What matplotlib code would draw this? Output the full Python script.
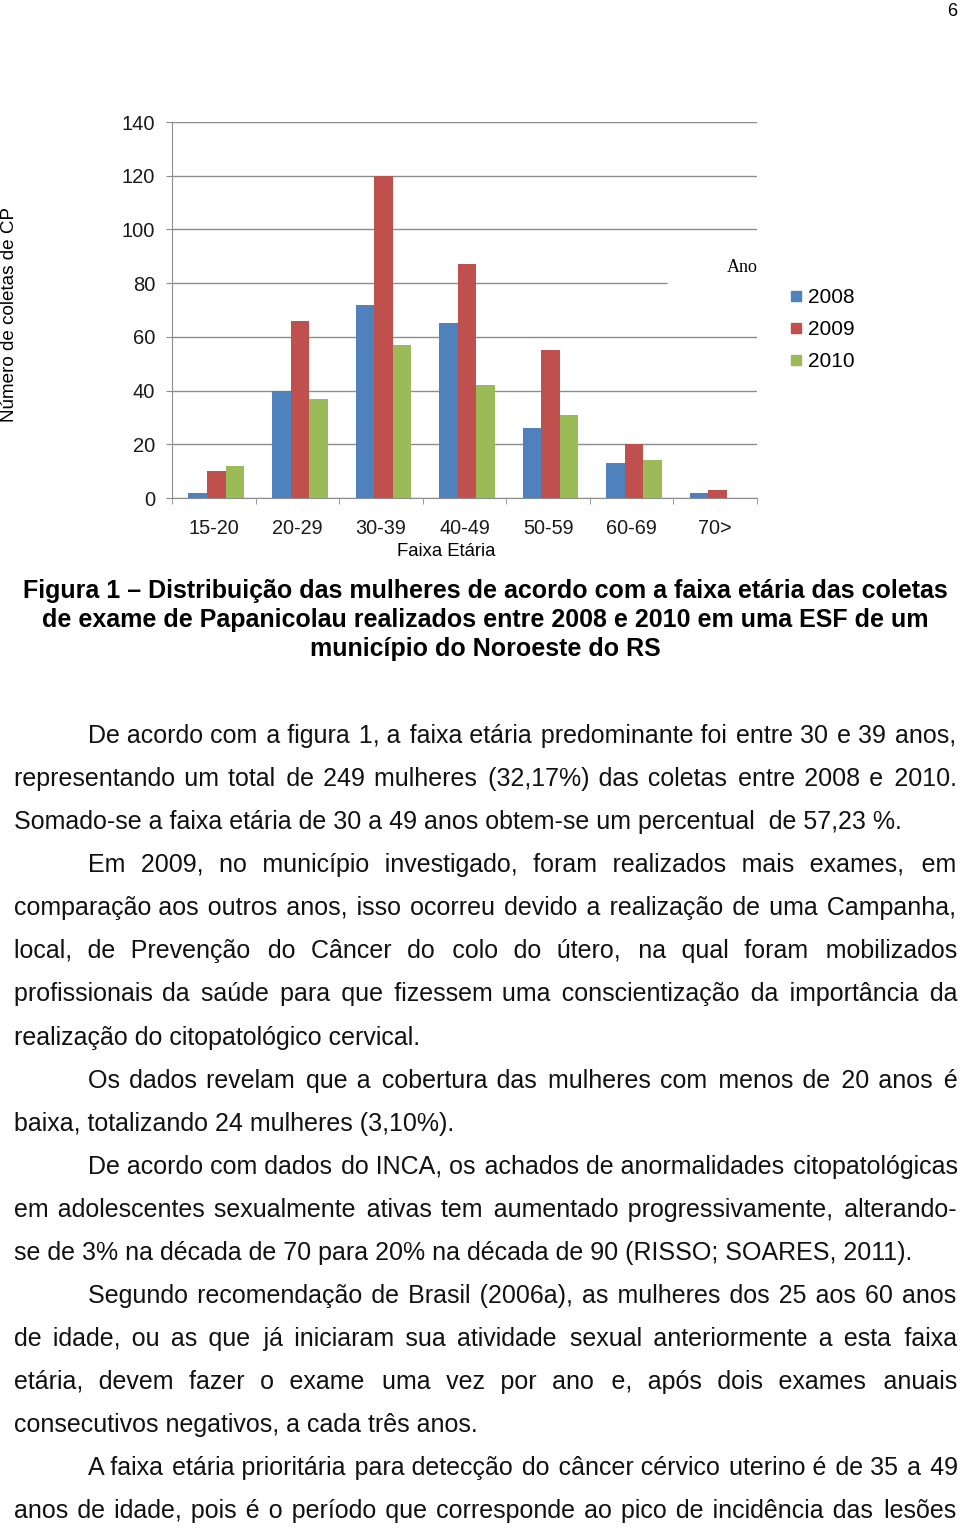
import matplotlib
matplotlib.use('Agg')
import matplotlib.pyplot as plt
from matplotlib.lines import Line2D

plt.rcParams['font.family'] = ['Liberation Sans', 'DejaVu Sans']

# dados do grafico
faixas = ['15-20', '20-29', '30-39', '40-49', '50-59', '60-69', '70>']
anos = ['2008', '2009', '2010']
coletas_2008 = [2, 40, 72, 65, 26, 13, 2]
coletas_2009 = [10, 66, 120, 87, 55, 20, 3]
coletas_2010 = [12, 37, 57, 42, 31, 14, 0]
yticks = [0, 20, 40, 60, 80, 100, 120, 140]
cores = ['#4F81BD', '#C0504D', '#9BBB59']

legenda = ['Figura 1 \u2013 Distribuição das mulheres de acordo com a faixa etária das coletas',
           'de exame de Papanicolau realizados entre 2008 e 2010 em uma ESF de um',
           'município do Noroeste do RS']

# texto do corpo: (linhas, recuo na primeira linha)
paragrafos = [
    ['De acordo com a figura 1, a faixa etária predominante foi entre 30 e 39 anos,',
     'representando um total de 249 mulheres (32,17%) das coletas entre 2008 e 2010.',
     'Somado-se a faixa etária de 30 a 49 anos obtem-se um percentual  de 57,23 %.'],
    ['Em 2009, no município investigado, foram realizados mais exames, em',
     'comparação aos outros anos, isso ocorreu devido a realização de uma Campanha,',
     'local, de Prevenção do Câncer do colo do útero, na qual foram mobilizados',
     'profissionais da saúde para que fizessem uma conscientização da importância da',
     'realização do citopatológico cervical.'],
    ['Os dados revelam que a cobertura das mulheres com menos de 20 anos é',
     'baixa, totalizando 24 mulheres (3,10%).'],
    ['De acordo com dados do INCA, os achados de anormalidades citopatológicas',
     'em adolescentes sexualmente ativas tem aumentado progressivamente, alterando-',
     'se de 3% na década de 70 para 20% na década de 90 (RISSO; SOARES, 2011).'],
    ['Segundo recomendação de Brasil (2006a), as mulheres dos 25 aos 60 anos',
     'de idade, ou as que já iniciaram sua atividade sexual anteriormente a esta faixa',
     'etária, devem fazer o exame uma vez por ano e, após dois exames anuais',
     'consecutivos negativos, a cada três anos.'],
    ['A faixa etária prioritária para detecção do câncer cérvico uterino é de 35 a 49',
     'anos de idade, pois é o período que corresponde ao pico de incidência das lesões'],
]

W, H = 960, 1528
fig = plt.figure(figsize=(W / 100, H / 100), dpi=100)
cinza = '#8c8c8c'

# grafico de barras
ax = fig.add_axes([172 / W, 1 - 498 / H, 585 / W, 376 / H])
x = range(len(faixas))
largura = 0.222
for k, (serie, cor) in enumerate(zip([coletas_2008, coletas_2009, coletas_2010], cores)):
    ax.bar([i + (k - 1) * largura + 0.03 for i in x], serie, width=largura,
           color=cor, zorder=3)

# a linha do 80 e cortada pelo rotulo "Ano" no original
fim = [6.5 if v != 80 else 5.42 for v in yticks]
ax.hlines(yticks, -0.5, fim, colors=cinza, lw=1, zorder=1)

ax.set_xlim(-0.5, 6.5)
ax.set_ylim(0, 140)
ax.set_yticks(yticks)
ax.set_xticks(list(x))
ax.set_xticklabels(faixas)
ax.set_xticks([i - 0.5 for i in range(len(faixas) + 1)], minor=True)
ax.tick_params(axis='x', which='major', length=0, pad=15, labelsize=14.3, colors='#1a1a1a')
ax.tick_params(axis='x', which='minor', length=4, color=cinza, direction='out')
ax.tick_params(axis='y', length=4, color=cinza, labelsize=14.5, pad=8, labelcolor='#1a1a1a')
for s in ['top', 'right']:
    ax.spines[s].set_visible(False)
ax.spines['left'].set_color(cinza)
ax.spines['bottom'].set_color(cinza)

fig.text(446 / W, 1 - 551 / H, 'Faixa Etária', ha='center', va='center', fontsize=13.3)
fig.text(10 / W, 1 - 315 / H, 'Número de coletas de CP', ha='center', va='center',
         rotation=90, fontsize=13.6)
fig.text(742 / W, 1 - 267 / H, 'Ano', ha='center', va='center', fontsize=13,
         family='Liberation Serif')

handles = [Line2D([], [], marker='s', ls='', color=c, markersize=7.5) for c in cores]
fig.legend(handles, anos, loc='upper left', bbox_to_anchor=(787 / W, 1 - 288 / H),
           frameon=False, fontsize=15, handletextpad=0.1, labelspacing=0.63,
           handlelength=0.9, borderaxespad=0, borderpad=0)

# numero da pagina
fig.text(952 / W, 1 - 12 / H, '6', ha='center', va='center', fontsize=13)

# legenda da figura
for i, linha in enumerate(legenda):
    fig.text(485 / W, 1 - (591 + 29 * i) / H, linha, ha='center', va='center',
             fontsize=18, fontweight='bold')

# corpo justificado: cada linha e um unico texto, os espacos sao
# alargados com espacos finos (hair space) ate a margem direita
renderer = fig.canvas.get_renderer()
tam = 18
x_esq, x_dir, recuo = 14, 957, 88
HAIR = '\u200a'


def largura_texto(t, s):
    t.set_text(s)
    return t.get_window_extent(renderer).width


def monta(palavras, extras):
    s = palavras[0]
    for p, n in zip(palavras[1:], extras):
        s += ' ' + HAIR * n + p
    return s


y = 743
passo = 43.08
for par in paragrafos:
    for j, linha in enumerate(par):
        x0 = recuo if j == 0 else x_esq
        ultima = (j == len(par) - 1) and not linha.endswith('lesões')
        t = fig.text(x0 / W, 1 - y / H, linha, ha='left', va='baseline',
                     fontsize=tam, color='#111111')
        if not ultima:
            palavras = linha.split()
            gaps = len(palavras) - 1
            w0 = largura_texto(t, monta(palavras, [0] * gaps))
            w1 = largura_texto(t, monta(palavras, [4] * gaps))
            hair = (w1 - w0) / (4 * gaps)
            if hair > 0.3:
                total = max(0, round((x_dir - x0 - w0) / hair))
                base, resto = divmod(total, gaps)
                extras = [base + (1 if (k * resto) // gaps != ((k + 1) * resto) // gaps else 0)
                          for k in range(gaps)]
                t.set_text(monta(palavras, extras))
            else:
                t.set_text(linha)
        y += passo

fig.savefig('out.png', dpi=100)
